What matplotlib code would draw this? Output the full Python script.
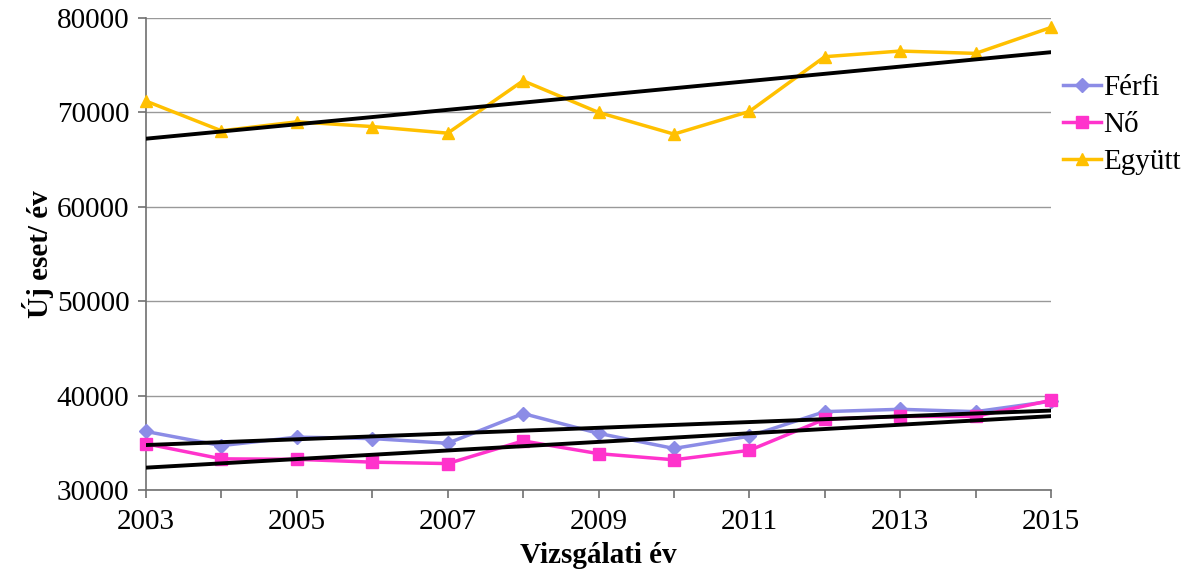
import numpy as np
import matplotlib.pyplot as plt

years = np.arange(2003, 2016)
ferfi = [36200, 34700, 35600, 35450, 34950, 38100, 36000, 34400, 35700, 38300, 38550, 38300, 39400]
no = [34900, 33300, 33250, 32950, 32800, 35200, 33850, 33200, 34200, 37500, 37800, 37800, 39500]
egyutt = [71200, 68050, 69000, 68500, 67800, 73350, 70000, 67700, 70100, 75900, 76500, 76250, 79000]

plt.rcParams['font.family'] = ['Liberation Serif', 'DejaVu Serif']

fig = plt.figure(figsize=(11.87, 5.70), dpi=100)
ax = fig.add_axes([146 / 1187, 1 - 490 / 570, (1051 - 146) / 1187, (490 - 18) / 570])

series = [
    ('Férfi', ferfi, '#8C8CE6', 'D', 7),
    ('Nő', no, '#FF33CC', 's', 8),
    ('Együtt', egyutt, '#FFC000', '^', 9),
]
for label, vals, color, marker, ms in series:
    ax.plot(years, vals, color=color, lw=2.5, marker=marker, ms=ms,
            label=label, zorder=3, clip_on=False)

# lineáris trendvonalak
for _, vals, _, _, _ in series:
    k, b = np.polyfit(years, vals, 1)
    ax.plot(years, k * years + b, color='black', lw=2.8, zorder=4)

ax.set_xlim(2003, 2015)
ax.set_ylim(30000, 80000)
ax.set_xticks(years)
ax.set_xticklabels([str(y) if y % 2 == 1 else '' for y in years])
ax.set_yticks(np.arange(30000, 80001, 10000))
ax.yaxis.grid(True, color='#999999', lw=1)
ax.set_axisbelow(True)

for s in ['top', 'right']:
    ax.spines[s].set_visible(False)
for s in ['left', 'bottom']:
    ax.spines[s].set_color('#707070')
    ax.spines[s].set_linewidth(1.2)
ax.tick_params(axis='both', labelsize=21, color='#707070', length=6, width=1.2)
ax.tick_params(axis='y', pad=6)
ax.tick_params(axis='x', pad=8)

ax.set_xlabel('Vizsgálati év', fontsize=21, fontweight='bold', labelpad=5)
ax.set_ylabel('Új eset/ év', fontsize=21, fontweight='bold', labelpad=2)

ax.legend(loc='upper left', bbox_to_anchor=(1.013, 0.88), frameon=False,
          fontsize=21, handlelength=1.3, handletextpad=0.1, labelspacing=0.36,
          borderaxespad=0, borderpad=0)

fig.savefig('out.png', dpi=100)
